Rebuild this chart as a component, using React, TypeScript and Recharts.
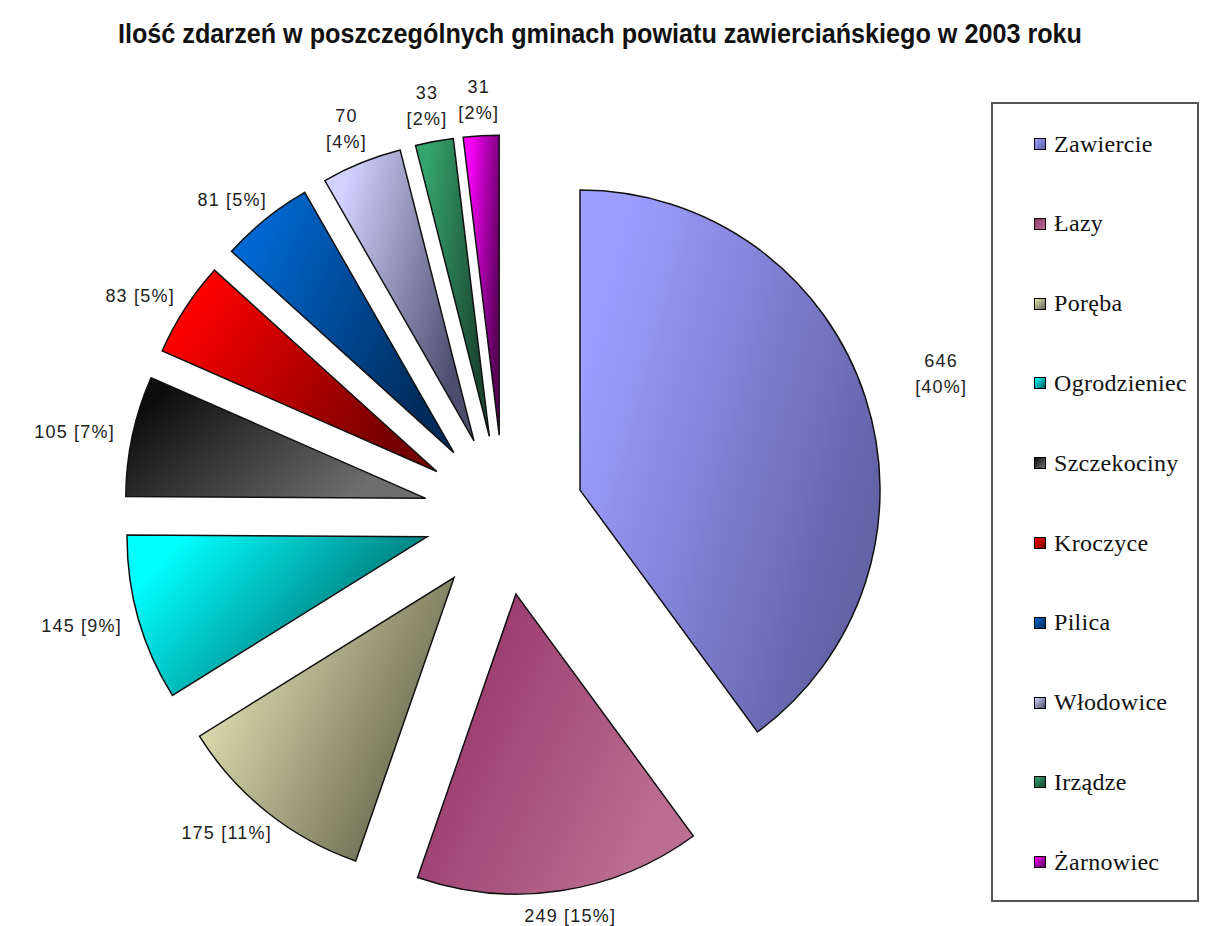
import { PieChart, Pie, Cell, Sector, Legend } from 'recharts'

const gminy = ['Zawiercie', 'Łazy', 'Poręba', 'Ogrodzieniec', 'Szczekociny', 'Kroczyce', 'Pilica', 'Włodowice', 'Irządze', 'Żarnowiec']
const zdarzenia = [646, 249, 175, 145, 105, 83, 81, 70, 33, 31]
const procenty = [40, 15, 11, 9, 7, 5, 5, 4, 2, 2]
// labels Excel broke onto two lines
const dwieLinie = ['Zawiercie', 'Włodowice', 'Irządze', 'Żarnowiec']

const gradStart = ['#9d9dff', '#96356a', '#e4e4b6', '#00ffff', '#0d0d0d', '#ff0000', '#0068d2', '#d2d2ff', '#35a46c', '#ff00ff']
const gradEnd = ['#6363a8', '#bb6e92', '#67674e', '#005f5f', '#6e6e6e', '#760000', '#002c5c', '#4c4c6c', '#1a4630', '#5c005c']

const data = gminy.map((name, i) => ({ name, value: zdarzenia[i] }))

const RADIAN = Math.PI / 180
const EXPLODE = 80

function ExplodedSector(props: any) {
  const { cx, cy, midAngle } = props
  const dx = EXPLODE * Math.cos(-midAngle * RADIAN)
  const dy = EXPLODE * Math.sin(-midAngle * RADIAN)
  return <Sector {...props} cx={cx + dx} cy={cy + dy} />
}

function renderLabel(props: any) {
  const { cx, cy, midAngle, outerRadius, index } = props
  const cos = Math.cos(-midAngle * RADIAN)
  const sin = Math.sin(-midAngle * RADIAN)
  const first = `${zdarzenia[index]}`
  const second = `[${procenty[index]}%]`
  const twoLines = dwieLinie.includes(gminy[index])
  const w = twoLines ? 50 : (first.length + second.length + 1) * 11
  const h = twoLines ? 44 : 20
  // the big slice's label sits further out in the original
  const r = outerRadius + EXPLODE + (index === 0 ? 55 : 15)
  const x = cx + r * cos + (cos * w) / 2
  const y = cy + r * sin + (sin * h) / 2
  const style = { fontFamily: 'Arial, "Liberation Sans", sans-serif', fontSize: 18, letterSpacing: 1.2, fill: '#222' }
  if (twoLines) {
    return (
      <text x={x} y={y} textAnchor="middle" style={style}>
        <tspan x={x} dy={-6}>{first}</tspan>
        <tspan x={x} dy={26}>{second}</tspan>
      </text>
    )
  }
  return (
    <text x={x} y={y + 7} textAnchor="middle" style={style}>
      {`${first} ${second}`}
    </text>
  )
}

function renderLegend() {
  return (
    <div
      style={{
        width: 208,
        height: 800,
        border: '2px solid #555',
        boxSizing: 'border-box',
        background: '#fff',
        position: 'relative',
      }}
    >
      {gminy.map((g, i) => (
        <div
          key={g}
          style={{
            position: 'absolute',
            left: 41,
            top: 40 + i * 79.8 - 15,
            height: 30,
            display: 'flex',
            alignItems: 'center',
            fontFamily: '"Liberation Serif", "Times New Roman", serif',
            fontSize: 24,
            letterSpacing: 0.3,
            color: '#111',
            whiteSpace: 'nowrap',
          }}
        >
          <span
            style={{
              display: 'inline-block',
              width: 10,
              height: 10,
              border: '1px solid #000',
              marginRight: 8,
              background: `linear-gradient(135deg, ${gradStart[i]}, ${gradEnd[i]})`,
            }}
          />
          {g}
        </div>
      ))}
    </div>
  )
}

export default function App() {
  return (
    <div style={{ position: 'relative', width: 1205, height: 926, background: '#fff', overflow: 'hidden' }}>
      <style>{'body{margin:0}'}</style>
      <svg width={1205} height={70} style={{ position: 'absolute', left: 0, top: 0 }}>
        <text
          x={600}
          y={43}
          textAnchor="middle"
          textLength={964}
          lengthAdjust="spacingAndGlyphs"
          style={{ fontFamily: '"Liberation Sans Narrow", "Arial Narrow", "Liberation Sans", Arial, sans-serif', fontWeight: 'bold', fontSize: 27, fill: '#111' }}
        >
          Ilość zdarzeń w poszczególnych gminach powiatu zawierciańskiego w 2003 roku
        </text>
      </svg>
      <PieChart width={1205} height={926} margin={{ top: 0, right: 0, bottom: 0, left: 0 }}>
        <defs>
          {gminy.map((g, i) => (
            <linearGradient key={g} id={`grad${i}`} x1="0" y1="0" x2="1" y2="0.5">
              <stop offset="15%" stopColor={gradStart[i]} />
              <stop offset="100%" stopColor={gradEnd[i]} />
            </linearGradient>
          ))}
        </defs>
        <Pie
          data={data}
          dataKey="value"
          nameKey="name"
          cx={504}
          cy={515}
          outerRadius={300}
          startAngle={90}
          endAngle={-270}
          stroke="#111"
          strokeWidth={1.5}
          shape={ExplodedSector}
          label={renderLabel}
          labelLine={false}
          isAnimationActive={false}
        >
          {data.map((d, i) => (
            <Cell key={d.name} fill={`url(#grad${i})`} />
          ))}
        </Pie>
        <Legend
          layout="vertical"
          verticalAlign="top"
          align="right"
          content={renderLegend}
          wrapperStyle={{ left: 991, top: 102, width: 208, height: 800 }}
        />
      </PieChart>
    </div>
  )
}
